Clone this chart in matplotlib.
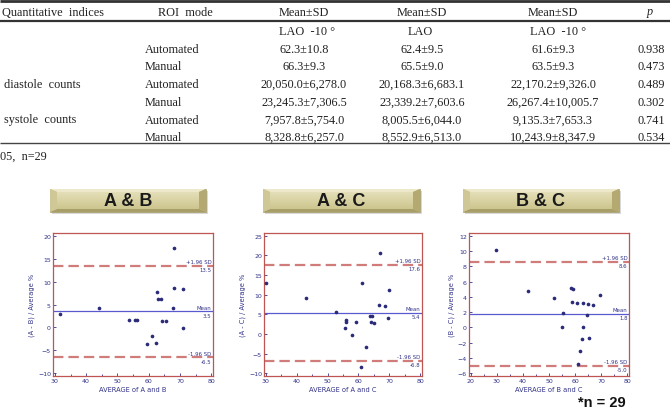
import matplotlib
matplotlib.use("Agg")
import matplotlib.pyplot as plt
import numpy as np
from matplotlib.patches import Polygon, Rectangle
from matplotlib.ticker import MultipleLocator

plt.rcParams['lines.scale_dashes'] = False

W, H = 670, 410

# ---------------- table data ----------------
header = ["Quantitative  indices", "ROI  mode", "Mean±SD", "Mean±SD", "Mean±SD", "p"]
view_labels = ["LAO  -10 °", "LAO", "LAO  -10 °"]
row_index = ["", "", "diastole  counts", "", "systole  counts", ""]
row_mode = ["Automated", "Manual", "Automated", "Manual", "Automated", "Manual"]
col1 = ["62.3±10.8", "66.3±9.3", "20,050.0±6,278.0", "23,245.3±7,306.5",
        "7,957.8±5,754.0", "8,328.8±6,257.0"]
col2 = ["62.4±9.5", "65.5±9.0", "20,168.3±6,683.1", "23,339.2±7,603.6",
        "8,005.5±6,044.0", "8,552.9±6,513.0"]
col3 = ["61.6±9.3", "63.5±9.3", "22,170.2±9,326.0", "26,267.4±10,005.7",
        "9,135.3±7,653.3", "10,243.9±8,347.9"]
p_values = ["0.938", "0.473", "0.489", "0.302", "0.741", "0.534"]
footnote = "05,  n=29"
n_note = "*n = 29"

# ---------------- Bland-Altman data ----------------
panel_titles = ["A & B", "A & C", "B & C"]
x_labels = ["AVERAGE of A and B", "AVERAGE of A and C", "AVERAGE of B and C"]
y_labels = ["(A - B) / Average %", "(A - C) / Average %", "(B - C) / Average %"]

ab_x = [31.6, 44.0, 53.7, 55.6, 56.3, 62.6, 63.1, 64.1, 64.4, 65.4, 68.0, 68.2,
        67.7, 71.1, 71.1, 61.0, 59.4, 62.4]
ab_y = [3.0, 4.3, 1.7, 1.6, 1.6, 7.8, 6.1, 6.1, 1.3, 1.3, 17.3, 8.6,
        4.2, 8.3, -0.2, -1.8, -3.7, -3.4]
ab_stats = [3.5, 13.5, -6.5]   # mean, +1.96SD, -1.96SD

ac_x = [30.2, 43.1, 52.6, 55.9, 55.9, 55.5, 59.2, 57.9, 61.0, 62.3, 63.6, 64.4,
        64.1, 65.2, 66.6, 67.1, 68.5, 69.6, 69.9, 60.7]
ac_y = [13.0, 9.1, 5.6, 3.5, 3.1, 1.6, 3.1, -0.2, 12.9, -3.3, 4.6, 4.6,
        3.0, 2.8, 7.3, 20.6, 7.1, 4.0, 11.1, -8.4]
ac_stats = [5.4, 17.6, -6.8]

bc_x = [29.5, 41.8, 51.9, 58.3, 59.2, 59.0, 60.9, 62.9, 64.8, 67.0, 69.4, 55.4,
        55.1, 64.4, 62.9, 62.5, 65.3, 61.8, 61.3]
bc_y = [10.1, 4.8, 3.9, 5.1, 5.0, 3.3, 3.25, 3.2, 3.1, 3.0, 4.3, 1.9,
        0.1, 1.6, 0.1, -1.5, -1.4, -3.1, -4.8]
bc_stats = [1.8, 8.6, -5.0]

x_ranges = [(30, 80), (30, 80), (20, 80)]
y_ranges = [(-10, 20), (-10, 25), (-6, 12)]
y_steps = [5, 5, 2]

# ---------------- figure ----------------
fig = plt.figure(figsize=(W / 100, H / 100), dpi=100)
ov = fig.add_axes([0, 0, 1, 1])
ov.set_axis_off()

serif = ['Liberation Serif', 'DejaVu Serif']
tc = '#222222'
fs = 8.8

# table rules
ov.plot([0, W], [2.2, 2.2], color='#333333', lw=2.0, solid_capstyle='butt')
ov.plot([0, W], [22, 22], color='#333333', lw=1.6, solid_capstyle='butt')
ov.plot([0, W], [144, 144], color='#444444', lw=1.0, solid_capstyle='butt')

col_x = [304, 422, 553]
hy = 12.5
ov.text(2, hy, header[0], ha='left', va='center', fontsize=fs, family=serif, color=tc)
ov.text(185, hy, header[1], ha='center', va='center', fontsize=fs, family=serif, color=tc)
for cx, h in zip(col_x, header[2:5]):
    ov.text(cx, hy, h, ha='center', va='center', fontsize=fs, family=serif, color=tc)
ov.text(650, hy, header[5], ha='center', va='center', fontsize=fs, family=serif,
        style='italic', color=tc)

ov.text(col_x[0] + 3, 32, view_labels[0], ha='center', va='center', fontsize=fs, family=serif, color=tc)
ov.text(col_x[1] - 2, 32, view_labels[1], ha='center', va='center', fontsize=fs, family=serif, color=tc)
ov.text(col_x[2] + 5, 32, view_labels[2], ha='center', va='center', fontsize=fs, family=serif, color=tc)

row_y = [50, 67.5, 85, 103, 120.5, 138]
for i, ry in enumerate(row_y):
    if row_index[i]:
        ov.text(4, ry, row_index[i], ha='left', va='center', fontsize=fs, family=serif, color=tc)
    ov.text(145, ry, row_mode[i], ha='left', va='center', fontsize=fs, family=serif, color=tc)
    for cx, col in zip(col_x, [col1, col2, col3]):
        ov.text(cx, ry, col[i], ha='center', va='center', fontsize=fs, family=serif, color=tc)
    ov.text(638, ry, p_values[i], ha='left', va='center', fontsize=fs, family=serif,
            color=tc, clip_on=False)

ov.text(0, 157, footnote, ha='left', va='center', fontsize=fs, family=serif, color=tc)
ov.text(578, 407, n_note, ha='left', va='baseline', fontsize=10.5, fontweight='bold',
        family=['Liberation Sans', 'DejaVu Sans'], color='#111111')


# buttons
def button(x0, y0, x1, y1, label):
    b, v = 7, 3
    ov.add_patch(Rectangle((x0 + 2, y0 + 2), x1 - x0, y1 - y0, color='#d8d8d8', zorder=1, lw=0))
    ov.add_patch(Rectangle((x0, y0), x1 - x0, y1 - y0, facecolor='#c8bf88', edgecolor='#a59b68',
                           lw=0.5, zorder=2))
    ov.add_patch(Polygon([(x0, y0), (x1, y0), (x1 - b, y0 + v), (x0 + b, y0 + v)],
                         closed=True, color='#ece8c9', lw=0, zorder=3))
    ov.add_patch(Polygon([(x0, y1), (x1, y1), (x1 - b, y1 - v), (x0 + b, y1 - v)],
                         closed=True, color='#a89e67', lw=0, zorder=3))
    ov.add_patch(Polygon([(x0, y0), (x0 + b, y0 + v), (x0 + b, y1 - v), (x0, y1)],
                         closed=True, color='#cfc796', lw=0, zorder=3))
    ov.add_patch(Polygon([(x1, y0), (x1 - b, y0 + v), (x1 - b, y1 - v), (x1, y1)],
                         closed=True, color='#b3a971', lw=0, zorder=3))
    top = np.array([0xe4, 0xdf, 0xb8]) / 255
    bot = np.array([0xcd, 0xc5, 0x8e]) / 255
    t = np.linspace(0, 1, 40)[:, None]
    grad = (top[None, :] * (1 - t) + bot[None, :] * t)[:, None, :]
    ov.imshow(grad, extent=(x0 + b, x1 - b, y1 - v, y0 + v), aspect='auto',
              origin='upper', zorder=4, interpolation='bilinear')
    ov.text((x0 + x1) / 2, (y0 + y1) / 2 + 0.5, label, ha='center', va='center',
            fontsize=13, fontweight='bold', family=['Liberation Sans', 'DejaVu Sans'],
            color='#1a1a1a', zorder=5)


btn_boxes = [(50, 190, 206, 213), (263, 190, 420, 213), (463, 190, 619, 213)]
for box, lab in zip(btn_boxes, panel_titles):
    button(*box, lab)

ov.set_xlim(0, W)
ov.set_ylim(H, 0)

# ---------------- Bland-Altman panels ----------------
frames = [(53, 213), (264, 422), (469, 629)]
ftop, fbot = 234, 377
navy = '#33338a'
frame_col = '#bf5552'
xs = [ab_x, ac_x, bc_x]
ys = [ab_y, ac_y, bc_y]
stats = [ab_stats, ac_stats, bc_stats]

for k in range(3):
    l, r = frames[k]
    ax = fig.add_axes([l / W, 1 - fbot / H, (r - l) / W, (fbot - ftop) / H])
    ax.set_facecolor('white')
    xlo, xhi = x_ranges[k]
    ylo, yhi = y_ranges[k]
    xp = (xhi - xlo) * 0.012
    yp = (yhi - ylo) * 0.02
    ax.set_xlim(xlo - xp, xhi + xp)
    ax.set_ylim(ylo - yp, yhi + yp)
    ax.xaxis.set_major_locator(MultipleLocator(10))
    ax.xaxis.set_minor_locator(MultipleLocator(5))
    ax.yaxis.set_major_locator(MultipleLocator(y_steps[k]))
    for s in ax.spines.values():
        s.set_color(frame_col)
        s.set_linewidth(0.9)
    ax.tick_params(axis='both', which='both', direction='in', colors=navy,
                   labelsize=4.5, length=2, width=0.6, pad=1.5)
    ax.tick_params(axis='x', which='minor', length=1.5)
    ax.tick_params(axis='y', which='both', right=False)
    ax.tick_params(axis='x', which='both', top=False)
    ax.set_xlabel(x_labels[k], fontsize=4.8, color=navy, labelpad=2)
    ax.set_ylabel(y_labels[k], fontsize=4.8, color=navy, labelpad=2)

    mean, up, lo = stats[k]
    ax.axhline(mean, color='#5a5ad0', lw=0.9, zorder=2)
    ax.axhline(up, color='#c0504d', lw=1.6, alpha=0.75, dashes=(7.5, 3.6), zorder=2)
    ax.axhline(lo, color='#c0504d', lw=1.6, alpha=0.75, dashes=(7.5, 3.6), zorder=2)
    ax.scatter(xs[k], ys[k], s=7, color='#2b2b7a', zorder=3, linewidths=0)

    xr = xhi + xp - (xhi - xlo) * 0.01
    dy = (yhi - ylo) * 0.028
    for val, name in [(up, '+1.96 SD'), (mean, 'Mean'), (lo, '-1.96 SD')]:
        ax.text(xr, val + dy, name, ha='right', va='center', fontsize=3.9, color=navy)
        ax.text(xr, val - dy, f"{val:.1f}", ha='right', va='center', fontsize=3.9, color=navy)

fig.savefig("out.png", dpi=100)
